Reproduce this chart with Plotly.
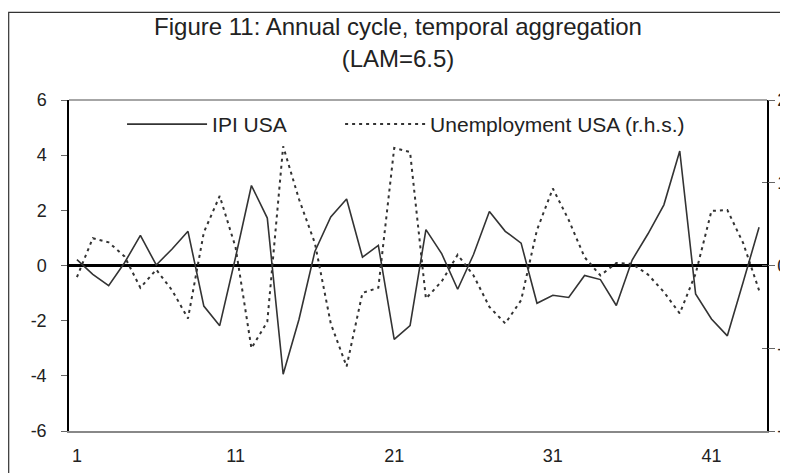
import plotly.graph_objects as go

periods = list(range(1, 45))
ipi_usa = [0.21, -0.32, -0.73, 0.1, 1.09, 0.02, 0.6, 1.24, -1.47, -2.18,
           0.3, 2.9, 1.72, -3.94, -1.95, 0.51, 1.76, 2.41, 0.3, 0.73,
           -2.68, -2.18, 1.3, 0.42, -0.86, 0.4, 1.96, 1.24, 0.81, -1.37,
           -1.08, -1.16, -0.36, -0.51, -1.45, 0.2, 1.15, 2.2, 4.15, -1.03,
           -1.94, -2.55, -0.6, 1.39]
unemp_usa = [-0.14, 0.33, 0.28, 0.11, -0.27, -0.05, -0.3, -0.64, 0.4, 0.84,
             0.22, -1.0, -0.68, 1.44, 0.8, 0.27, -0.7, -1.22, -0.33, -0.27,
             1.42, 1.37, -0.4, -0.19, 0.13, -0.12, -0.5, -0.7, -0.42, 0.43,
             0.93, 0.55, 0.1, -0.12, 0.03, 0.02, -0.11, -0.32, -0.58, -0.1,
             0.66, 0.67, 0.27, -0.3]
x_ticks = [1, 11, 21, 31, 41]
left_ticks = [-6, -4, -2, 0, 2, 4, 6]
left_labels = ["-6", "-4", "-2", "0", "2", "4", "6"]
right_ticks = [-2, -1, 0, 1, 2]
right_labels = ["-2", "-1", "0", "1", "2"]

FONT = "Liberation Sans, Arial, Helvetica, sans-serif"
INK = "#333333"

fig = go.Figure()
fig.add_trace(go.Scatter(x=periods, y=ipi_usa, mode="lines", name="IPI USA",
                         legend="legend",
                         line=dict(color=INK, width=1.6)))
fig.add_trace(go.Scatter(x=periods, y=unemp_usa, mode="lines",
                         name="Unemployment USA (r.h.s.)", yaxis="y2",
                         legend="legend2",
                         line=dict(color=INK, width=2, dash="3px,4px")))
# invisible helper trace so the outer half of the crossing right ticks is drawn
fig.add_trace(go.Scatter(x=[periods[0]], y=[unemp_usa[0]], yaxis="y3", mode="lines",
                         showlegend=False, hoverinfo="skip",
                         line=dict(color="rgba(0,0,0,0)")))

legend_common = dict(orientation="h", y=0.988, xanchor="left", yanchor="top",
                     bgcolor="rgba(0,0,0,0)", itemwidth=80,
                     font=dict(family=FONT, size=21, color="#222222"))

fig.update_layout(
    width=780, height=465,
    paper_bgcolor="white", plot_bgcolor="white",
    margin=dict(l=61, r=21.3, t=92, b=42, autoexpand=False),
    font=dict(family=FONT, size=18, color="#222222"),
    title=dict(text="Figure 11: Annual cycle, temporal aggregation<br>(LAM=6.5)",
               x=0.5, xanchor="center", y=0.941, yanchor="top",
               font=dict(family=FONT, size=24, color="#222222")),
    showlegend=True,
    legend=dict(x=0.076, **legend_common),
    legend2=dict(x=0.3884, **legend_common),
    xaxis=dict(range=[0.5, 44.5], tickvals=x_ticks, showgrid=False, zeroline=False,
               showline=True, linecolor="#888888", linewidth=1.5, mirror=False,
               ticks="", ticklabelstandoff=8, automargin=False),
    yaxis=dict(range=[-6, 6], tickvals=left_ticks, ticktext=left_labels, showgrid=False,
               zeroline=True, zerolinecolor="black", zerolinewidth=2.5,
               showline=True, linecolor="black", linewidth=1.5, automargin=False,
               ticks="outside", ticklen=6, tickcolor="#666666", ticklabelstandoff=11),
    yaxis2=dict(range=[-2, 2], tickvals=right_ticks, ticktext=right_labels,
                overlaying="y", side="right", automargin=False,
                showgrid=False, zeroline=False, showline=True, linecolor="black",
                linewidth=1.5, ticks="inside", ticklen=5, tickcolor="#666666",
                ticklabelstandoff=5),
    yaxis3=dict(range=[-2, 2], tickvals=right_ticks, overlaying="y", side="right",
                showticklabels=False, showgrid=False, zeroline=False, showline=False,
                ticks="outside", ticklen=7, tickcolor="#666666", automargin=False),
    shapes=[
        dict(type="line", xref="paper", yref="paper", x0=0, x1=1, y0=1, y1=1,
             line=dict(color="#888888", width=1.5)),
        dict(type="rect", xref="paper", yref="paper", x0=-0.0864, x1=1.2,
             y0=-0.3, y1=1.265, line=dict(color="#333333", width=1.2)),
    ],
)
fig.write_html("out.html")
